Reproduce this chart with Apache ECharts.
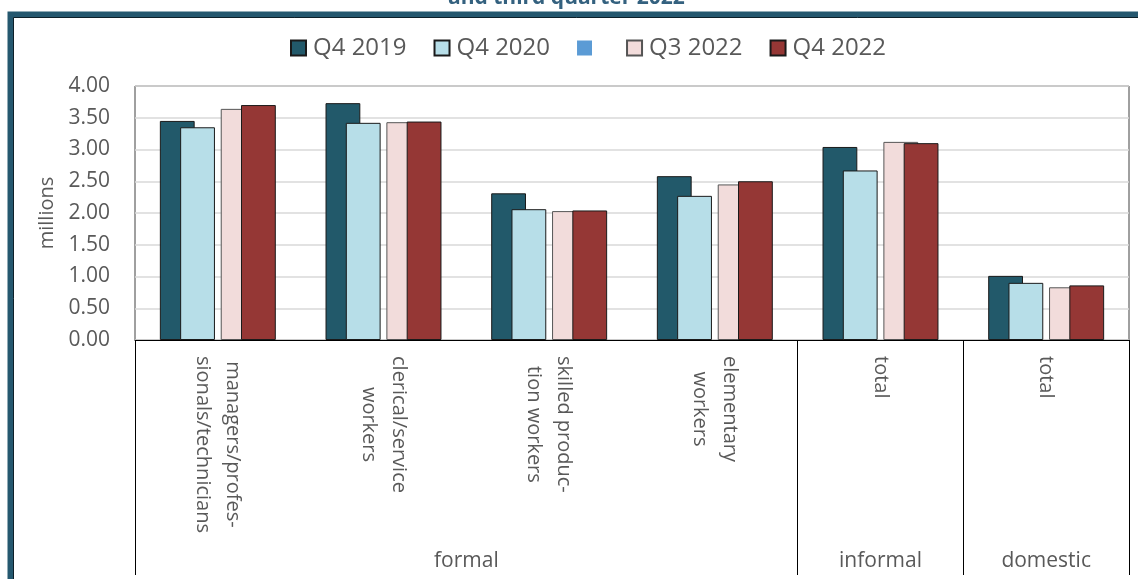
<!DOCTYPE html>
<html><head><meta charset="utf-8">
<script src="https://cdn.jsdelivr.net/npm/echarts@6/dist/echarts.min.js"></script>
<style>html,body{margin:0;padding:0;background:#fff}#c{width:1138px;height:579px}</style>
</head><body><div id="c"></div>
<script>
// ---- data ----
const categories = ['managers/profes-\nsionals/technicians', 'clerical/service\nworkers', 'skilled produc-\ntion workers', 'elementary\nworkers', 'total', 'total'];
const groups = ['formal', 'informal', 'domestic'];
const groupSizes = [4, 1, 1];
const seriesNames = ['Q4 2019', 'Q4 2020', '\u200b', 'Q3 2022', 'Q4 2022'];
const q4_2019 = [3.45, 3.73, 2.31, 2.58, 3.04, 1.01];
const q4_2020 = [3.35, 3.42, 2.06, 2.27, 2.67, 0.90];
const blankSeries = [];
const q3_2022 = [3.64, 3.43, 2.03, 2.45, 3.12, 0.83];
const q4_2022 = [3.70, 3.44, 2.04, 2.50, 3.10, 0.86];
const yMin = 0, yMax = 4, yStep = 0.5;
const titleText = 'and third quarter 2022';
const yName = 'millions';

// ---- styles ----
const FONT = 'Open Sans';
const GREY = '#595959';
const colors = ['#22596a', '#b7dee8', '#5b9bd5', '#f2dcdb', '#953735'];
const borders = ['#1a1a1a', '#1a1a1a', null, '#555555', '#1a1a1a'];
const allData = [q4_2019, q4_2020, blankSeries, q3_2022, q4_2022];

// group boundaries and centres derived from group sizes
const boundaryIdx = [];
const groupCentre = {};
let acc = 0;
groupSizes.forEach((n, i) => {
  boundaryIdx.push(acc);
  groupCentre[(acc + n / 2).toFixed(1)] = groups[i];
  acc += n;
});

const chart = echarts.init(document.getElementById('c'), null, {renderer: 'canvas'});
chart.setOption({
  backgroundColor: '#ffffff',
  animation: false,
  title: {
    text: titleText, left: 448, top: -12, padding: 0,
    textStyle: {fontFamily: FONT, fontSize: 21, fontWeight: 'bold', color: '#34617f'}
  },
  graphic: [
    {type: 'rect', z: 100, shape: {x: 10.5, y: 14.5, width: 1300, height: 800},
     style: {fill: 'none', stroke: '#25586f', lineWidth: 6}},
    {type: 'rect', z: 101, shape: {x: 13.5, y: 17.5, width: 1300, height: 800},
     style: {fill: 'none', stroke: '#0d1f28', lineWidth: 1}}
  ],
  legend: {
    data: seriesNames, top: 31, left: 285, itemWidth: 15, itemHeight: 15, itemGap: 27,
    icon: 'rect',
    textStyle: {fontFamily: FONT, fontSize: 24, color: GREY, padding: [0, 0, 0, 2]}
  },
  grid: {left: 135, right: 9, top: 86, bottom: 239, show: true, borderColor: '#404040', borderWidth: 1, containLabel: false},
  xAxis: [
    {
      type: 'category', data: categories, position: 'bottom',
      axisLine: {show: true, lineStyle: {color: '#000', width: 1}},
      axisTick: {show: false},
      axisLabel: {
        interval: 0, rotate: -90, margin: 16, color: GREY, fontFamily: FONT, fontSize: 20, lineHeight: 30,
        formatter: v => v.split('\n').map(s => '{c|' + s + '}').join('\n'),
        rich: {c: {align: 'center', fontFamily: FONT, fontSize: 20, lineHeight: 30, color: GREY}}
      }
    },
    {
      type: 'category', data: categories, position: 'bottom',
      axisLine: {show: false}, axisLabel: {show: false},
      axisTick: {show: true, length: 235, interval: (i) => boundaryIdx.indexOf(i) >= 0, lineStyle: {color: '#000', width: 1}}
    },
    {
      type: 'value', min: 0, max: categories.length, interval: 0.5, position: 'bottom',
      axisLine: {show: false}, axisTick: {show: false}, splitLine: {show: false},
      axisLabel: {margin: 211, color: GREY, fontFamily: FONT, fontSize: 21,
        formatter: v => groupCentre[v.toFixed(1)] || ''}
    }
  ],
  yAxis: {
    type: 'value', min: yMin, max: yMax, interval: yStep,
    name: yName, nameLocation: 'middle', nameGap: 74, nameRotate: 90,
    nameTextStyle: {fontFamily: FONT, fontSize: 20, color: GREY},
    axisLine: {show: false}, axisTick: {show: false},
    axisLabel: {margin: 25, color: GREY, fontFamily: FONT, fontSize: 21, formatter: v => v.toFixed(2)},
    splitLine: {lineStyle: {color: '#d9d9d9', width: 1.5}}
  },
  series: seriesNames.map((name, i) => ({
    name: name, type: 'bar', xAxisIndex: 0, data: allData[i],
    barWidth: 34.8, barGap: '-41.7%',
    itemStyle: {color: colors[i], borderColor: borders[i] || colors[i], borderWidth: borders[i] ? 1 : 0}
  }))
});
</script></body></html>
